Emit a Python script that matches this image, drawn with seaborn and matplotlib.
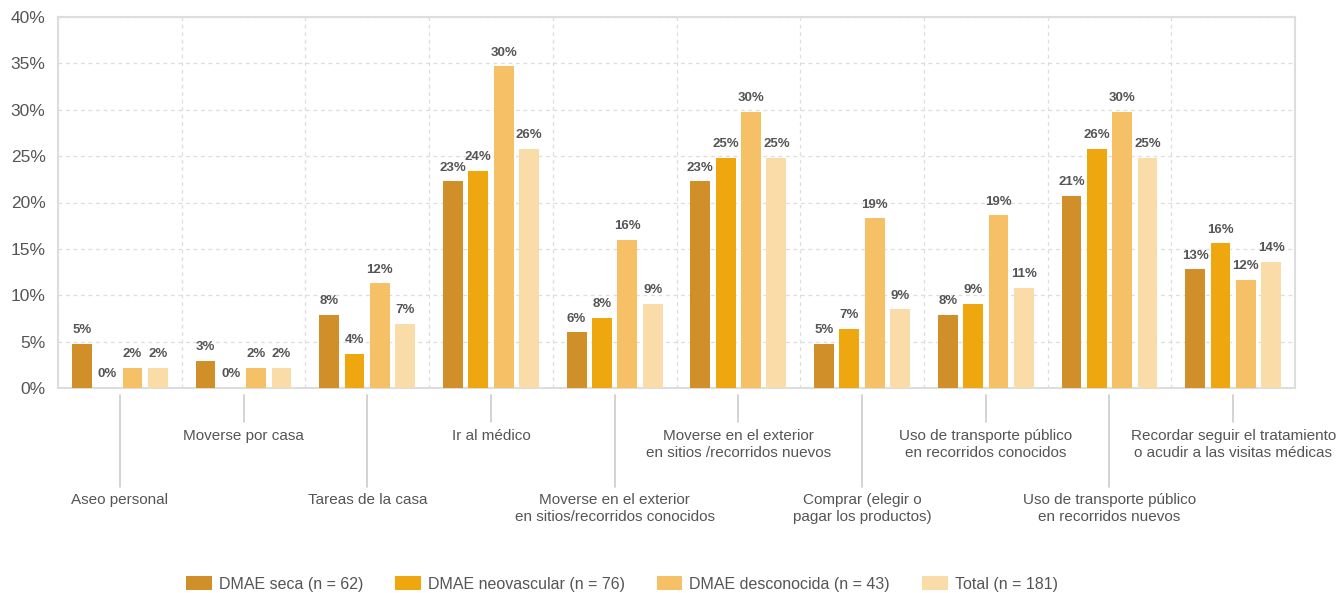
import matplotlib
matplotlib.use("Agg")
import matplotlib.pyplot as plt
import seaborn as sns
import pandas as pd
import numpy as np

categories = [
    "Aseo personal",
    "Moverse por casa",
    "Tareas de la casa",
    "Ir al médico",
    "Moverse en el exterior\nen sitios/recorridos conocidos",
    "Moverse en el exterior\nen sitios /recorridos nuevos",
    "Comprar (elegir o\npagar los productos)",
    "Uso de transporte público\nen recorridos conocidos",
    "Uso de transporte público\nen recorridos nuevos",
    "Recordar seguir el tratamiento\no acudir a las visitas médicas",
]
series_names = ["DMAE seca (n = 62)", "DMAE neovascular (n = 76)",
                "DMAE desconocida (n = 43)", "Total (n = 181)"]

seca = [4.75, 2.9, 7.9, 22.3, 6.0, 22.3, 4.75, 7.9, 20.7, 12.8]
neovascular = [0.0, 0.0, 3.7, 23.4, 7.55, 24.8, 6.4, 9.06, 25.8, 15.6]
desconocida = [2.16, 2.16, 11.3, 34.7, 16.0, 29.8, 18.3, 18.6, 29.8, 11.65]
total = [2.16, 2.16, 6.9, 25.8, 9.06, 24.8, 8.5, 10.8, 24.8, 13.6]

seca_lbl = ["5%", "3%", "8%", "23%", "6%", "23%", "5%", "8%", "21%", "13%"]
neo_lbl = ["0%", "0%", "4%", "24%", "8%", "25%", "7%", "9%", "26%", "16%"]
desc_lbl = ["2%", "2%", "12%", "30%", "16%", "30%", "19%", "19%", "30%", "12%"]
total_lbl = ["2%", "2%", "7%", "26%", "9%", "25%", "9%", "11%", "25%", "14%"]

yticks = [0, 5, 10, 15, 20, 25, 30, 35, 40]
ytick_labels = ["0%", "5%", "10%", "15%", "20%", "25%", "30%", "35%", "40%"]

colors = ["#D18F2A", "#EEA70E", "#F5C066", "#F9DCA8"]

sns.set_theme(style="white")
plt.rcParams["font.family"] = ["Liberation Sans", "DejaVu Sans"]

rows = []
for name, vals in zip(series_names, [seca, neovascular, desconocida, total]):
    for c, v in zip(categories, vals):
        rows.append({"cat": c, "val": v, "grupo": name})
df = pd.DataFrame(rows)

fig = plt.figure(figsize=(13.36, 5.93), dpi=100)
ax = fig.add_axes([58 / 1336, 1 - 388 / 593, (1295 - 58) / 1336, (388 - 17) / 593])

sns.barplot(data=df, x="cat", y="val", hue="grupo", order=categories,
            hue_order=series_names, palette=colors, width=0.82, gap=0.22,
            linewidth=0, saturation=1, ax=ax, zorder=3)

txt = "#555555"
for cont, lbls in zip(ax.containers, [seca_lbl, neo_lbl, desc_lbl, total_lbl]):
    ax.bar_label(cont, labels=lbls, padding=5.5, fontsize=9.5,
                 fontweight="bold", color=txt)

ax.set_ylim(0, 40)
ax.set_xlim(-0.5, len(categories) - 0.5)
ax.set_yticks(yticks)
ax.set_yticklabels(ytick_labels, fontsize=12.5, color=txt)
ax.tick_params(axis="y", length=0, pad=9)
ax.set_xticks(range(len(categories)))
ax.tick_params(axis="x", length=0, labelbottom=False)
ax.set_xticks(np.arange(-0.5, len(categories), 1), minor=True)
ax.tick_params(axis="x", which="minor", length=0)
ax.set_xlabel("")
ax.set_ylabel("")

ax.grid(axis="y", which="major", color="#dddddd", ls=(0, (3, 3)), lw=0.9, zorder=0)
ax.grid(axis="x", which="minor", color="#dddddd", ls=(0, (3, 3)), lw=0.9, zorder=0)
ax.grid(axis="x", which="major", visible=False)
for s in ax.spines.values():
    s.set_color("#dddddd")
    s.set_linewidth(1.5)

trans = ax.get_xaxis_transform()
for i, c in enumerate(categories):
    if i % 2 == 0:
        y_end, y_txt = -0.267, -0.283
    else:
        y_end, y_txt = -0.092, -0.110
    ax.plot([i, i], [-0.019, y_end], transform=trans, color="#cccccc",
            lw=1.2, clip_on=False)
    ax.text(i, y_txt, c, transform=trans, ha="center", va="top",
            fontsize=11, color=txt, linespacing=1.25)

handles, labels = ax.get_legend_handles_labels()
if ax.get_legend() is not None:
    ax.get_legend().remove()
fig.legend(handles, labels, loc="center", bbox_to_anchor=(0.4655, 1 - 584 / 593),
           ncol=4, frameon=False, fontsize=11.5, labelcolor=txt,
           handlelength=1.6, handleheight=0.95, handletextpad=0.45,
           columnspacing=2.0)

fig.savefig("out.png", dpi=100)
